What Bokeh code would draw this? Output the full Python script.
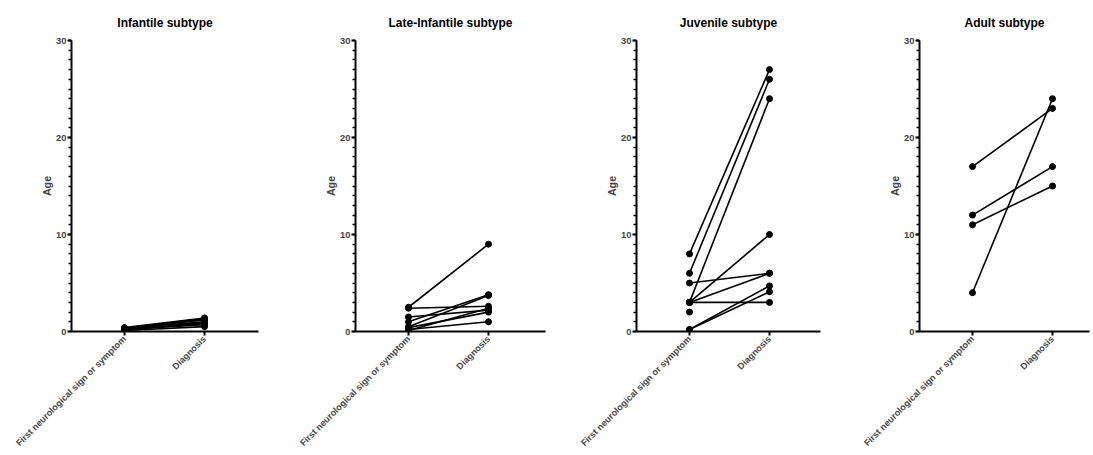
import math
import numpy as np
from bokeh.plotting import figure
from bokeh.layouts import row
from bokeh.models import SingleIntervalTicker, FixedTicker, Range1d
from bokeh.embed import file_html
from bokeh.resources import INLINE

categories = ["First neurological sign or symptom", "Diagnosis"]
titles = ["Infantile subtype", "Late-Infantile subtype", "Juvenile subtype", "Adult subtype"]

infantile_first = [0.4, 0.35, 0.3, 0.3, 0.25, 0.2, 0.2, 0.1]
infantile_diag = [1.4, 1.3, 1.2, 1.0, 0.9, 0.8, 0.7, 0.5]

late_first = [2.5, 2.4, 1.5, 1.0, 0.5, 0.4, 0.2, 0.1]
late_diag = [9.0, 2.6, 2.2, 3.8, 3.7, 2.0, 1.0, 2.4]

juvenile_first = [8, 6, 5, 3, 3, 3, 3, 2, 0.2, 0.2]
juvenile_diag = [27, 26, 6, 24, 10, 6, 3, float("nan"), 4.7, 4.1]

adult_first = [17, 12, 11, 4]
adult_diag = [23, 17, 15, 24]

y_ticks = [0, 10, 20, 30]

series = [
    (infantile_first, infantile_diag),
    (late_first, late_diag),
    (juvenile_first, juvenile_diag),
    (adult_first, adult_diag),
]

# layout: (fig width, border left, frame width)
layout = [(290, 71, 187), (282, 65, 190), (283, 64, 184), (235, 64, 170)]

FONT = "Liberation Sans"
PX_PER_CAT = 80.0
CAT_OFFSET = 53.0

figs = []
for i, (title, (first, diag)) in enumerate(zip(titles, series)):
    w, bl, fw = layout[i]
    br = w - bl - fw
    x0 = -CAT_OFFSET / PX_PER_CAT
    x1 = x0 + fw / PX_PER_CAT
    p = figure(width=w, height=455, output_backend="svg", toolbar_location=None,
               x_range=Range1d(x0, x1), y_range=Range1d(y_ticks[0], y_ticks[-1]),
               min_border_left=bl, min_border_right=br, min_border_top=40,
               min_border_bottom=124, title=title)
    p.outline_line_color = None
    p.xgrid.visible = False
    p.ygrid.visible = False
    p.background_fill_color = "white"
    p.border_fill_color = "white"

    p.title.align = "center"
    p.title.text_font = FONT
    p.title.text_font_size = "9pt"
    p.title.text_font_style = "bold"
    p.title.text_color = "black"
    p.title.standoff = 22

    # lines
    xs, ys = [], []
    for a, b in zip(first, diag):
        if not (np.isnan(a) or np.isnan(b)):
            xs.append([0, 1])
            ys.append([a, b])
    p.multi_line(xs, ys, line_color="black", line_width=1.6)
    p.scatter([0] * len(first), first, size=6, color="black")
    p.scatter([1] * len(diag), diag, size=6, color="black")

    # y axis
    ya = p.yaxis[0]
    ya.ticker = SingleIntervalTicker(interval=10, num_minor_ticks=10)
    ya.axis_label = "Age"
    ya.axis_label_text_font = FONT
    ya.axis_label_text_font_style = "bold"
    ya.axis_label_text_font_size = "8pt"
    ya.axis_label_standoff = 0
    ya.major_label_text_font = FONT
    ya.major_label_text_font_style = "bold"
    ya.major_label_text_font_size = "7pt"
    ya.axis_line_width = 2
    ya.axis_line_color = "black"
    ya.major_tick_line_width = 2
    ya.major_tick_in = 0
    ya.major_tick_out = 4
    ya.minor_tick_line_width = 1.5
    ya.minor_tick_in = 0
    ya.minor_tick_out = 3
    ya.major_label_standoff = 1

    # x axis
    xa = p.xaxis[0]
    xa.ticker = FixedTicker(ticks=[0, 1], minor_ticks=[])
    xa.major_label_overrides = {0: categories[0], 1: categories[1]}
    xa.major_label_orientation = math.pi / 4
    xa.major_label_text_font = FONT
    xa.major_label_text_font_style = "bold"
    xa.major_label_text_font_size = "6.8pt"
    xa.axis_line_width = 2
    xa.axis_line_color = "black"
    xa.major_tick_line_width = 2
    xa.major_tick_in = 0
    xa.major_tick_out = 4
    xa.minor_tick_line_color = None
    xa.major_label_standoff = 2

    figs.append(p)

layout_row = row(*figs, spacing=0)
open("out.html", "w").write(file_html(layout_row, INLINE))
